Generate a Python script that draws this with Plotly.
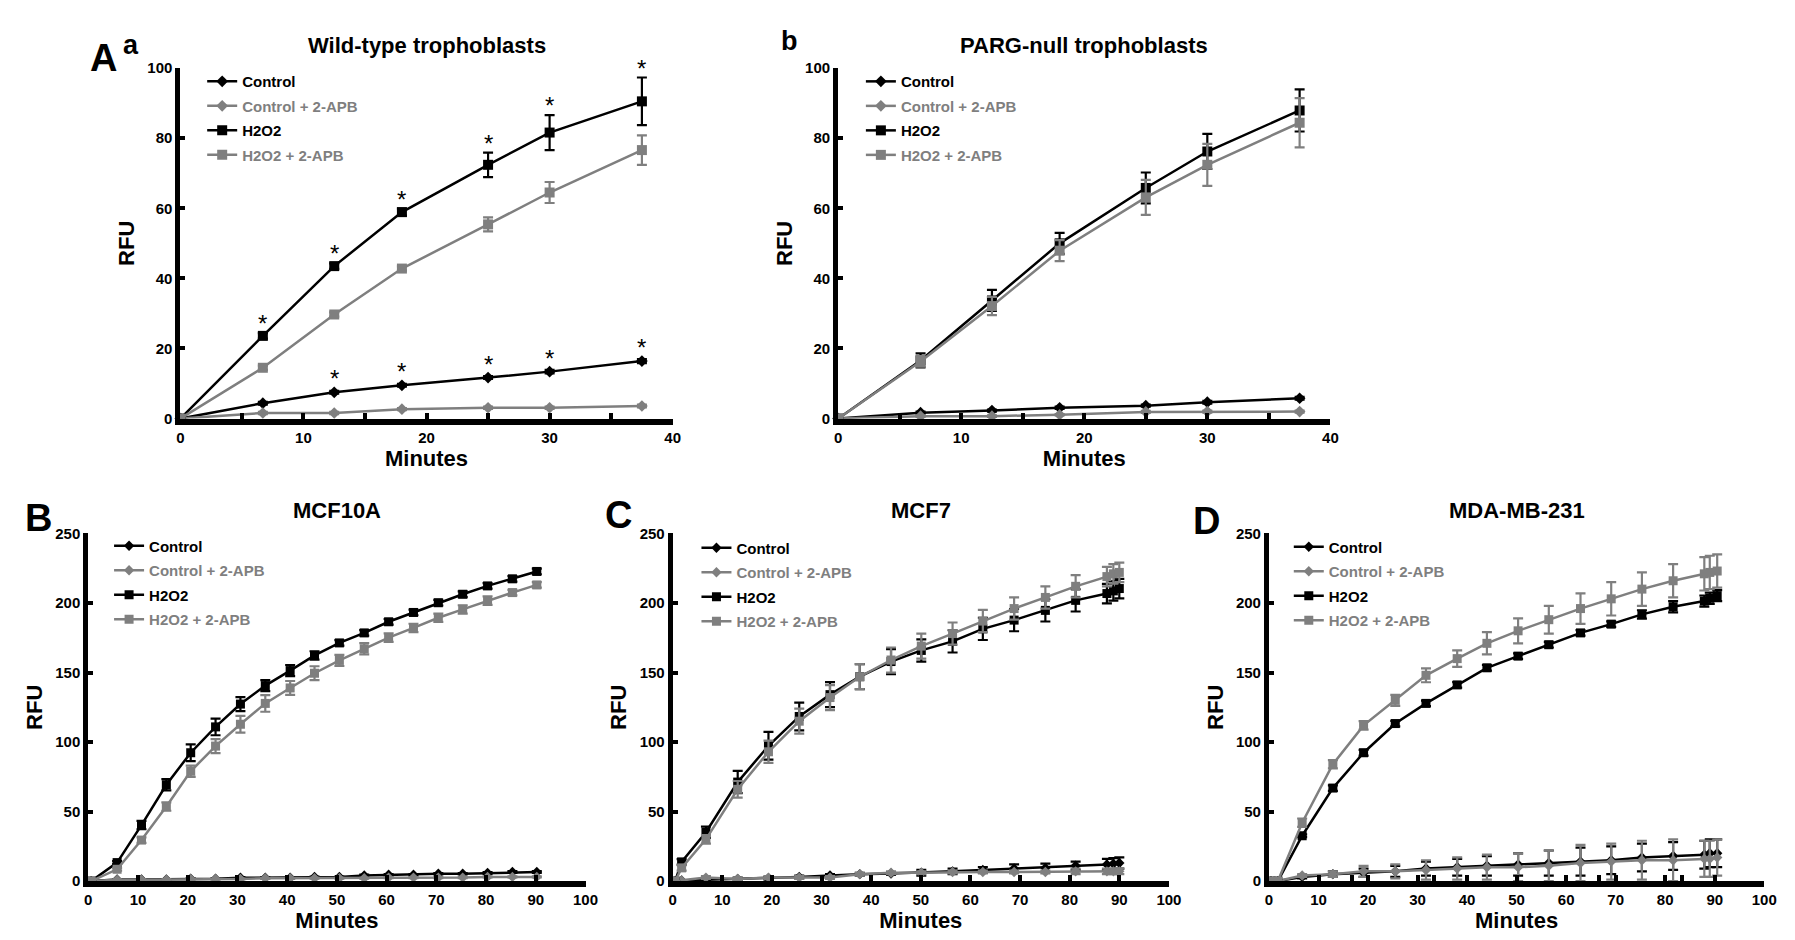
import plotly.graph_objects as go

W, H = 1795, 940
BLACK = "#000000"
GRAY = "#7f7f7f"
FONT = "Liberation Sans, Arial, Helvetica, sans-serif"

series_names = ["Control", "Control + 2-APB", "H2O2", "H2O2 + 2-APB"]

# --- A a: wild-type trophoblasts ---
wt_minutes = [0, 6.7, 12.5, 18, 25, 30, 37.5]
wt_control = [0, 4.4, 7.5, 9.5, 11.7, 13.4, 16.4]
wt_control_err = [0, 0.4, 0.4, 0.4, 0.4, 0.5, 0.6]
wt_control_apb = [0, 1.6, 1.6, 2.7, 3.1, 3.1, 3.6]
wt_control_apb_err = [0, 0.3, 0.3, 0.3, 0.3, 0.3, 0.4]
wt_h2o2 = [0, 23.6, 43.5, 58.9, 72.4, 81.6, 90.5]
wt_h2o2_err = [0, 0.8, 0.8, 1.0, 3.5, 5.0, 6.8]
wt_h2o2_apb = [0, 14.5, 29.7, 42.8, 55.4, 64.5, 76.6]
wt_h2o2_apb_err = [0, 0.6, 0.6, 0.6, 2.0, 3.0, 4.2]
# which points carry a significance star
wt_h2o2_star = [False, True, True, True, True, True, True]
wt_control_star = [False, False, True, True, True, True, True]

# --- A b: PARG-null trophoblasts ---
pn_minutes = [0, 6.7, 12.5, 18, 25, 30, 37.5]
pn_control = [0, 1.7, 2.3, 3.1, 3.7, 4.7, 5.8]
pn_control_err = [0, 0.3, 0.3, 0.3, 0.3, 0.4, 0.4]
pn_control_apb = [0, 0.7, 0.7, 1.1, 1.9, 2.0, 2.0]
pn_control_apb_err = [0, 0.2, 0.2, 0.2, 0.3, 0.3, 0.3]
pn_h2o2 = [0, 16.6, 33.7, 50.0, 65.8, 76.2, 87.9]
pn_h2o2_err = [0, 2.0, 3.0, 3.0, 4.4, 5.0, 6.0]
pn_h2o2_apb = [0, 16.3, 32.1, 47.9, 63.1, 72.4, 84.4]
pn_h2o2_apb_err = [0, 1.5, 2.6, 3.0, 5.0, 6.0, 7.0]

# --- B: MCF10A ---
b_minutes = [0.6, 5.8, 10.7, 15.7, 20.6, 25.6, 30.6, 35.6, 40.6, 45.5,
             50.5, 55.5, 60.4, 65.4, 70.4, 75.3, 80.3, 85.3, 90.2]
b_control = [0, 1.2, 1.2, 1.2, 1.7, 1.7, 2.4, 2.4, 2.4, 2.9,
             2.9, 4.1, 4.6, 4.6, 5.3, 5.3, 5.8, 6.5, 6.5]
b_control_err = [0, 0.3, 0.3, 0.3, 0.3, 0.3, 0.4, 0.4, 0.4, 0.4,
                 0.4, 0.5, 0.5, 0.5, 0.5, 0.5, 0.6, 0.6, 0.6]
b_control_apb = [0, 1.0, 1.0, 1.0, 1.5, 1.5, 1.5, 2.0, 2.0, 2.0,
                 2.0, 2.0, 2.5, 2.5, 2.5, 2.5, 3.0, 3.0, 3.0]
b_control_apb_err = [0, 0.3, 0.3, 0.3, 0.3, 0.3, 0.3, 0.3, 0.3, 0.3,
                     0.3, 0.3, 0.4, 0.4, 0.4, 0.4, 0.4, 0.4, 0.4]
b_h2o2 = [0, 13.3, 40.3, 69.3, 92.3, 110.9, 127.3, 140.6, 151.4, 162.3,
          171.3, 178.5, 186.5, 193.2, 200.2, 206.3, 212.3, 217.4, 222.7]
b_h2o2_err = [0, 1, 3, 4, 6, 6, 5, 4, 4, 3, 2, 2, 2, 2, 2, 2, 2, 2, 2]
b_h2o2_apb = [0, 8.5, 29.5, 53.6, 79.0, 97.1, 112.8, 127.8, 138.9, 149.5,
              158.7, 167.1, 175.1, 182.1, 189.4, 195.4, 201.7, 207.5, 213.0]
b_h2o2_apb_err = [0, 1, 2, 3, 4, 5, 6, 6, 5, 5, 4, 4, 3, 3, 3, 3, 3, 2, 2]

# --- C: MCF7 ---
c_minutes = [0.5, 1.8, 6.7, 13.1, 19.3, 25.5, 31.7, 37.7, 44.0,
             50.1, 56.4, 62.5, 68.8, 75.1, 81.2, 87.5, 88.8, 90.0]
c_control = [0, 0.5, 1, 1.5, 2, 3, 4, 5, 5.5, 6, 7, 8, 9, 9.5, 11, 12, 12.5, 13]
c_control_err = [0, 0, 1, 1, 1, 1, 1, 1, 1, 2, 2, 2, 3, 3, 3, 4, 4, 4]
c_control_apb = [0, 0.5, 2.5, 1.5, 2.5, 2.5, 2.5, 5, 6, 6, 6.5, 6.5, 6.5, 6.5, 7, 7, 7, 7]
c_control_apb_err = [0, 0, 1, 1, 1, 1, 1, 1, 1, 1, 1, 1, 1, 1, 2, 2, 2, 2]
c_h2o2 = [0, 13.8, 35.1, 71.2, 97.3, 118.4, 134.1, 147.0, 157.9,
          165.9, 172.4, 181.4, 187.7, 194.7, 201.9, 206.8, 208.7, 210.4]
c_h2o2_err = [0, 2, 4, 8, 10, 10, 9, 9, 9, 8, 8, 8, 8, 8, 8, 7, 7, 7]
c_h2o2_apb = [0, 9.5, 30, 66, 93, 115, 132, 147, 159, 169, 178, 187, 196, 204, 212, 219, 221, 222]
c_h2o2_apb_err = [0, 2, 3, 6, 8, 9, 9, 9, 9, 9, 8, 8, 8, 8, 8, 7, 7, 7]

# --- D: MDA-MB-231 ---
d_minutes = [0.4, 1.8, 6.7, 12.9, 19.1, 25.5, 31.7, 38.0, 44.0,
             50.3, 56.5, 62.9, 69.1, 75.3, 81.6, 87.9, 89.0, 90.5]
d_control = [0, 0, 3, 5, 6, 7, 9, 10, 11, 12, 13, 14, 15, 17, 18, 19, 20, 20]
d_control_err = [0, 0, 1, 2, 3, 4, 5, 6, 7, 8, 9, 10, 10, 10, 10, 10, 10, 10]
d_control_apb = [0, 0, 4, 5, 7, 7, 8, 9, 10, 10, 11, 13, 14, 15, 15, 16, 16, 17]
d_control_apb_err = [0, 0, 1, 2, 4, 5, 7, 8, 9, 10, 11, 13, 13, 14, 15, 13, 13, 13]
d_h2o2 = [0, 0, 32.6, 66.9, 92.3, 113.3, 127.8, 141.1, 153.4,
          161.8, 170.0, 178.5, 184.8, 191.8, 197.3, 201.4, 203.4, 205.3]
d_h2o2_err = [0, 0, 1, 2, 2, 2, 2, 2, 2, 2, 2, 2, 2, 3, 4, 4, 4, 4]
d_h2o2_apb = [0, 0, 42, 84, 112, 130, 148, 160, 171, 180, 188, 196, 203, 210, 216, 221, 222, 223]
d_h2o2_apb_err = [0, 0, 3, 3, 3, 4, 5, 6, 8, 9, 10, 11, 12, 12, 12, 12, 12, 12]

panels = [
    dict(n=1, title="Wild-type trophoblasts", x=wt_minutes,
         ys=[(wt_control, wt_control_err), (wt_control_apb, wt_control_apb_err),
             (wt_h2o2, wt_h2o2_err), (wt_h2o2_apb, wt_h2o2_apb_err)],
         xr=[0, 40], yr=[0, 100], xdt=10, ydt=20, minor=dict(dtick=5),
         px=(170, 667), py=(52, 409), leg=(192, 49), msize=10),
    dict(n=2, title="PARG-null trophoblasts", x=pn_minutes,
         ys=[(pn_control, pn_control_err), (pn_control_apb, pn_control_apb_err),
             (pn_h2o2, pn_h2o2_err), (pn_h2o2_apb, pn_h2o2_apb_err)],
         xr=[0, 40], yr=[0, 100], xdt=10, ydt=20, minor=dict(dtick=5),
         px=(834, 1331), py=(52, 409), leg=(857, 49), msize=10),
    dict(n=3, title="MCF10A", x=b_minutes,
         ys=[(b_control, b_control_err), (b_control_apb, b_control_apb_err),
             (b_h2o2, b_h2o2_err), (b_h2o2_apb, b_h2o2_apb_err)],
         xr=[0, 100], yr=[0, 250], xdt=10, ydt=50, minor=dict(tickvals=[100]),
         px=(77, 579), py=(526, 880), leg=(98, 522), msize=9),
    dict(n=4, title="MCF7", x=c_minutes,
         ys=[(c_control, c_control_err), (c_control_apb, c_control_apb_err),
             (c_h2o2, c_h2o2_err), (c_h2o2_apb, c_h2o2_apb_err)],
         xr=[0, 100], yr=[0, 250], xdt=10, ydt=50,
         minor=dict(tickvals=[20, 40, 60, 80, 100]),
         px=(667, 1168), py=(526, 880), leg=(691, 524), msize=9),
    dict(n=5, title="MDA-MB-231", x=d_minutes,
         ys=[(d_control, d_control_err), (d_control_apb, d_control_apb_err),
             (d_h2o2, d_h2o2_err), (d_h2o2_apb, d_h2o2_apb_err)],
         xr=[0, 100], yr=[0, 250], xdt=10, ydt=50,
         minor=dict(tickvals=[16.7, 33.3, 50, 66.7, 83.3, 100]),
         px=(1269, 1769), py=(526, 880), leg=(1289, 523), msize=9),
]

colors = [BLACK, GRAY, BLACK, GRAY]
symbols = ["diamond", "diamond", "square", "square"]

fig = go.Figure()
layout = {}
annotations = []

for p in panels:
    n = p["n"]
    sfx = "" if n == 1 else str(n)
    legend_id = "legend" + sfx
    for i, (yv, err) in enumerate(p["ys"]):
        name = series_names[i]
        if colors[i] == GRAY:
            name = f"<span style='color:{GRAY}'>{name}</span>"
        fig.add_trace(go.Scatter(
            x=p["x"], y=yv, name=name, mode="lines+markers",
            xaxis="x" + sfx, yaxis="y" + sfx, legend=legend_id,
            legendgroup=f"{n}-{i}",
            line=dict(color=colors[i], width=2.5),
            marker=dict(symbol=symbols[i], size=p["msize"] - (1 if i < 2 else 0),
                        color=colors[i]),
            error_y=dict(type="data", array=err, color=colors[i],
                         thickness=2.2, width=5),
            cliponaxis=False,
        ))

    x0, x1 = p["px"]
    y0, y1 = p["py"]
    tickfont = dict(size=15, color=BLACK, family=FONT, weight="bold")
    layout["xaxis" + sfx] = dict(
        domain=[x0 / W, x1 / W], anchor="y" + sfx, range=p["xr"],
        dtick=p["xdt"], tick0=0, showgrid=False, zeroline=False,
        showline=True, linewidth=6, linecolor=BLACK,
        ticks="inside", ticklen=6, tickwidth=4, tickcolor=BLACK,
        minor=dict(ticks="inside", ticklen=6, tickwidth=4, tickcolor=BLACK, **p["minor"]),
        tickfont=tickfont,
        title=dict(text="Minutes", standoff=4,
                   font=dict(size=22, color=BLACK, family=FONT, weight="bold")),
    )
    layout["yaxis" + sfx] = dict(
        domain=[1 - y1 / H, 1 - y0 / H], anchor="x" + sfx, range=p["yr"],
        dtick=p["ydt"], showgrid=False, zeroline=False,
        showline=True, linewidth=5, linecolor=BLACK,
        ticks="inside", ticklen=5, tickwidth=4, tickcolor=BLACK,
        tickfont=tickfont,
        title=dict(text="RFU", standoff=8,
                   font=dict(size=22, color=BLACK, family=FONT, weight="bold")),
    )
    lx, ly = p["leg"]
    layout[legend_id] = dict(
        x=lx / W, y=1 - ly / H, xanchor="left", yanchor="top",
        bgcolor="rgba(0,0,0,0)", borderwidth=0,
        traceorder="grouped", tracegroupgap=2, itemwidth=30,
        font=dict(size=15, color=BLACK, family=FONT, weight="bold"),
    )
    # panel title
    annotations.append(dict(
        text=p["title"], xref="paper", yref="paper",
        x=(x0 + x1) / 2 / W, y=1 - (y0 - 23) / H,
        showarrow=False, xanchor="center", yanchor="middle",
        font=dict(size=22, color=BLACK, family=FONT, weight="bold"),
    ))

# significance stars in wild-type panel
star_font = dict(size=24, color=BLACK, family=FONT)
for xv, yv, ev, s in zip(wt_minutes, wt_h2o2, wt_h2o2_err, wt_h2o2_star):
    if s:
        annotations.append(dict(text="*", x=xv, y=yv + ev, xref="x", yref="y",
                                showarrow=False, yanchor="bottom", yshift=-6,
                                font=star_font))
for xv, yv, s in zip(wt_minutes, wt_control, wt_control_star):
    if s:
        annotations.append(dict(text="*", x=xv, y=yv, xref="x", yref="y",
                                showarrow=False, yanchor="bottom", yshift=-2,
                                font=star_font))

# panel letters
letters = [("A", 92, 42, 38), ("a", 120, 29, 27), ("b", 785, 24, 27),
           ("B", 27, 510, 38), ("C", 612, 507, 38), ("D", 1206, 513, 38)]
for txt, lx, ly, size in letters:
    annotations.append(dict(
        text=txt, xref="paper", yref="paper", x=lx / W, y=1 - ly / H,
        showarrow=False, xanchor="center", yanchor="middle",
        font=dict(size=size, color=BLACK, family=FONT, weight="bold"),
    ))

fig.update_layout(
    width=W, height=H,
    margin=dict(l=0, r=0, t=0, b=0),
    paper_bgcolor="white", plot_bgcolor="white",
    font=dict(family=FONT, color=BLACK),
    annotations=annotations,
    **layout,
)

fig.write_html("out.html")
